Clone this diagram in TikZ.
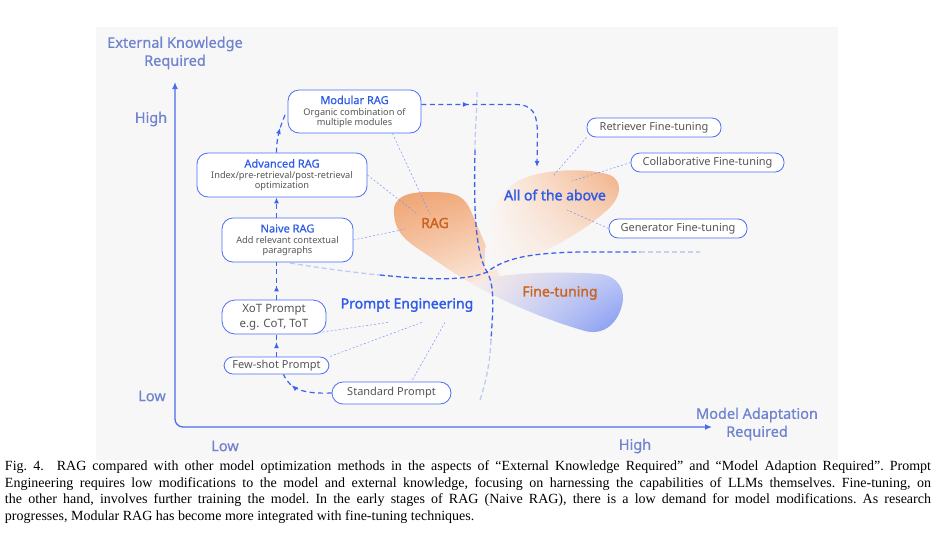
\documentclass[tikz,border=0pt]{standalone}
\usepackage{fontspec}
\setmainfont{Noto Sans}
\newfontfamily\semifont{Noto Sans}[FakeBold=0.6]
\newfontfamily\heavyfont{Noto Sans}[FakeBold=1.8]
\newfontfamily\capfont{Liberation Serif}
\usepackage{xcolor}
\usetikzlibrary{calc,positioning,arrows.meta,decorations.markings,shadings}

\definecolor{panel}{HTML}{F7F7F8}
\definecolor{axisblue}{HTML}{4A6CF0}
\definecolor{axislab}{HTML}{6F83CF}
\definecolor{edgeblue}{HTML}{4A6EF5}
\definecolor{titleblue}{HTML}{2E5BE8}
\definecolor{bodygray}{HTML}{555555}
\definecolor{ragtext}{HTML}{CC6420}
\definecolor{flowblue}{HTML}{3D63EE}
\definecolor{blobdark}{HTML}{EFA370}
\definecolor{blobblue}{HTML}{7C92F0}

\tikzset{
  stage/.style={draw=edgeblue, fill=white, line width=0.8pt, rounded corners=11pt, align=center, inner sep=0pt, text=bodygray, font=\fontsize{9.2}{10}\selectfont},
  pill/.style={draw=edgeblue, fill=white, line width=0.8pt, rounded corners=9pt, inner sep=0pt, text=bodygray, font=\fontsize{11}{12}\selectfont},
  flowline/.style={draw=flowblue, dash pattern=on 5pt off 3.5pt, line width=1.2pt},
  flow/.style={flowline, -{Latex[length=6pt,width=5pt]}},
  midtip/.style={postaction={decorate}, decoration={markings, mark=at position #1 with {\arrow{Latex[length=6pt,width=5pt]}}}},
  leader/.style={draw=edgeblue!75, dash pattern=on 2pt off 2pt, line width=0.5pt},
  divide/.style={draw=flowblue, dash pattern=on 5pt off 3pt, line width=1.3pt},
  axislabel/.style={text=axislab, align=center, font=\semifont\fontsize{14.5}{18}\selectfont},
  region/.style={font=\heavyfont\fontsize{14}{16}\selectfont}
}

\newcommand{\stagetitle}[1]{\textcolor{titleblue}{\semifont\fontsize{11}{13}\selectfont #1}}

\begin{document}
\begin{tikzpicture}[x=1pt, y=-1pt]
\useasboundingbox (0,0) rectangle (936,558);
\fill[white] (0,0) rectangle (936,558);
\fill[panel] (96,27) rectangle (838,460);

% regions
\shade[upper left=blobdark, upper right=blobdark!85, lower left=blobdark!45, lower right=blobdark!8]
  (394,214) .. controls (392,196) and (408,192) .. (430,192)
  .. controls (452,192) and (462,194) .. (469,207)
  .. controls (477,224) and (487,250) .. (497,270)
  .. controls (503,282) and (506,292) .. (496,293)
  .. controls (480,292) and (450,270) .. (420,250)
  .. controls (400,237) and (395,228) .. (394,214) -- cycle;
\shade[upper left=blobdark!8, upper right=blobdark!90, lower left=panel, lower right=blobdark!22]
  (485,272) .. controls (485,230) and (490,195) .. (520,180)
  .. controls (545,168) and (590,168) .. (610,175)
  .. controls (625,182) and (620,200) .. (605,212)
  .. controls (580,235) and (530,262) .. (485,272) -- cycle;
\shade[upper left=blobdark!20, upper right=blobblue!50, lower left=blobblue!15, lower right=blobblue]
  (470,283) .. controls (500,272) and (560,271) .. (600,274)
  .. controls (618,276) and (626,290) .. (622,305)
  .. controls (618,322) and (605,336) .. (585,331)
  .. controls (550,321) and (510,305) .. (470,283) -- cycle;

% dividing curves
\draw[divide, opacity=0.3] (477,92) .. controls (477,110) and (475,130) .. (475,150);
\draw[divide] (475,150) .. controls (474,200) and (474,250) .. (487,272)
  .. controls (495,285) and (493,310) .. (491,340);
\draw[divide, opacity=0.3] (491,340) .. controls (490,365) and (485,385) .. (480,400);
\draw[divide, opacity=0.3] (290,263) .. controls (320,268) and (350,272) .. (380,275);
\draw[divide] (380,275) .. controls (420,279) and (465,282) .. (487,272)
  .. controls (505,258) and (530,253) .. (580,252) -- (640,252);
\draw[divide, opacity=0.25] (640,252) -- (700,252);

% axes
\coordinate (ytop) at (175,82);
\coordinate (origin) at (175,427);
\coordinate (xend) at (712,427);
\draw[axisblue, line width=1.3pt, rounded corners=8pt, {Latex[length=7pt,width=6pt]}-{Latex[length=7pt,width=6pt]}]
  (ytop) -- (origin) -- (xend);
\node[axislabel] (yname) at (175,53) {External Knowledge\\Required};
\node[axislabel] (xname) at (757,424) {Model Adaptation\\Required};
\node[axislabel] (yhigh) at (151,119) {High};
\node[axislabel] (ylow) at (152,396) {Low};
\node[axislabel] (xlow) at (225,446) {Low};
\node[axislabel] (xhigh) at (635,446) {High};

% stages
\node[stage, minimum width=133pt, minimum height=43pt] (mod) at (354.5,111.5)
  {\stagetitle{Modular RAG}\\[1pt]Organic combination of\\multiple modules};
\node[stage, minimum width=170pt, minimum height=44pt] (adv) at (282,175)
  {\stagetitle{Advanced RAG}\\[1pt]Index/pre-retrieval/post-retrieval\\optimization};
\node[stage, minimum width=131pt, minimum height=44pt] (nai) at (287.5,240)
  {\stagetitle{Naive RAG}\\[1pt]Add relevant contextual\\paragraphs};
\node[stage, rounded corners=13pt, minimum width=104pt, minimum height=34pt, font=\fontsize{11.5}{15}\selectfont] (xot) at (274,317)
  {XoT Prompt\\e.g. CoT, ToT};
\node[pill, minimum width=105pt, minimum height=17pt] (few) at (276.5,365.5) {Few-shot Prompt};
\node[pill, rounded corners=11pt, minimum width=119pt, minimum height=22pt] (sta) at (391.5,393) {Standard Prompt};
\node[pill, minimum width=134pt, minimum height=19pt] (ret) at (654,127.5) {Retriever Fine-tuning};
\node[pill, minimum width=153pt, minimum height=19pt] (col) at (707.5,162.5) {Collaborative Fine-tuning};
\node[pill, minimum width=138pt, minimum height=19pt] (gen) at (678,228.5) {Generator Fine-tuning};

% region labels
\node[region, text=ragtext] (rag) at (435,223) {RAG};
\node[region, text=titleblue] (all) at (555,195) {All of the above};
\node[region, text=ragtext] (ft) at (560,293) {Fine-tuning};
\node[region, text=titleblue] (pe) at (407,305) {Prompt Engineering};
\coordinate (merge) at (537,167);

% leaders
\draw[leader] ([xshift=-29pt]mod.south east) -- ([xshift=-5pt]rag.north);
\draw[leader] (adv.east) -- (rag.north west);
\draw[leader] (nai.east) -- ([xshift=-12pt,yshift=-6pt]rag.west);
\draw[leader] (ret.south west) -- ([xshift=-2pt,yshift=10pt]all.north);
\draw[leader] (col.west) -- ([xshift=17pt,yshift=5pt]all.north);
\draw[leader] (gen.west) -- ([xshift=12pt,yshift=-6pt]all.south);
\draw[leader] ([xshift=-19pt,yshift=-7pt]pe.south) -- ([xshift=-6pt,yshift=2pt]xot.south east);
\draw[leader] ([xshift=15pt,yshift=-7pt]pe.south) -- (few.north east);
\draw[leader] ([xshift=38pt,yshift=-7pt]pe.south) -- ([xshift=20pt]sta.north);

% flows
\draw[flowline, midtip=0.75] (sta.west) .. controls (305,394) and (290,390) .. ([xshift=7pt]few.south);
\draw[flowline, midtip=0.65] (few.north) -- (few.north |- xot.south);
\draw[flowline, midtip=0.38] (few.north |- xot.north) -- (few.north |- nai.south);
\draw[flow] (few.north |- nai.north) -- (few.north |- adv.south);
\draw[flowline, midtip=0.62] (few.north |- adv.north) .. controls +(0,-18) and +(-4,10) .. ([xshift=-2pt,yshift=-2pt]mod.west);
\draw[flow, midtip=0.28] ([yshift=7pt]mod.east) -- ++(94,0) .. controls +(18,0) and +(0,-20) .. ++(22,30) -- (merge);

% caption
\node[text width=926pt, align=justify, font=\capfont\fontsize{14}{16.5}\selectfont\frenchspacing] (cap) at (468,492)
  {Fig.~4.\enspace\ RAG compared with other model optimization methods in the aspects of “External Knowledge Required” and “Model Adaption Required”. Prompt\linebreak
  Engineering requires low modifications to the model and external knowledge, focusing on harnessing the capabilities of LLMs themselves. Fine-tuning, on\linebreak
  the other hand, involves further training the model. In the early stages of RAG (Naive RAG), there is a low demand for model modifications. As research\linebreak
  progresses, Modular RAG has become more integrated with fine-tuning techniques.};
\end{tikzpicture}
\end{document}
